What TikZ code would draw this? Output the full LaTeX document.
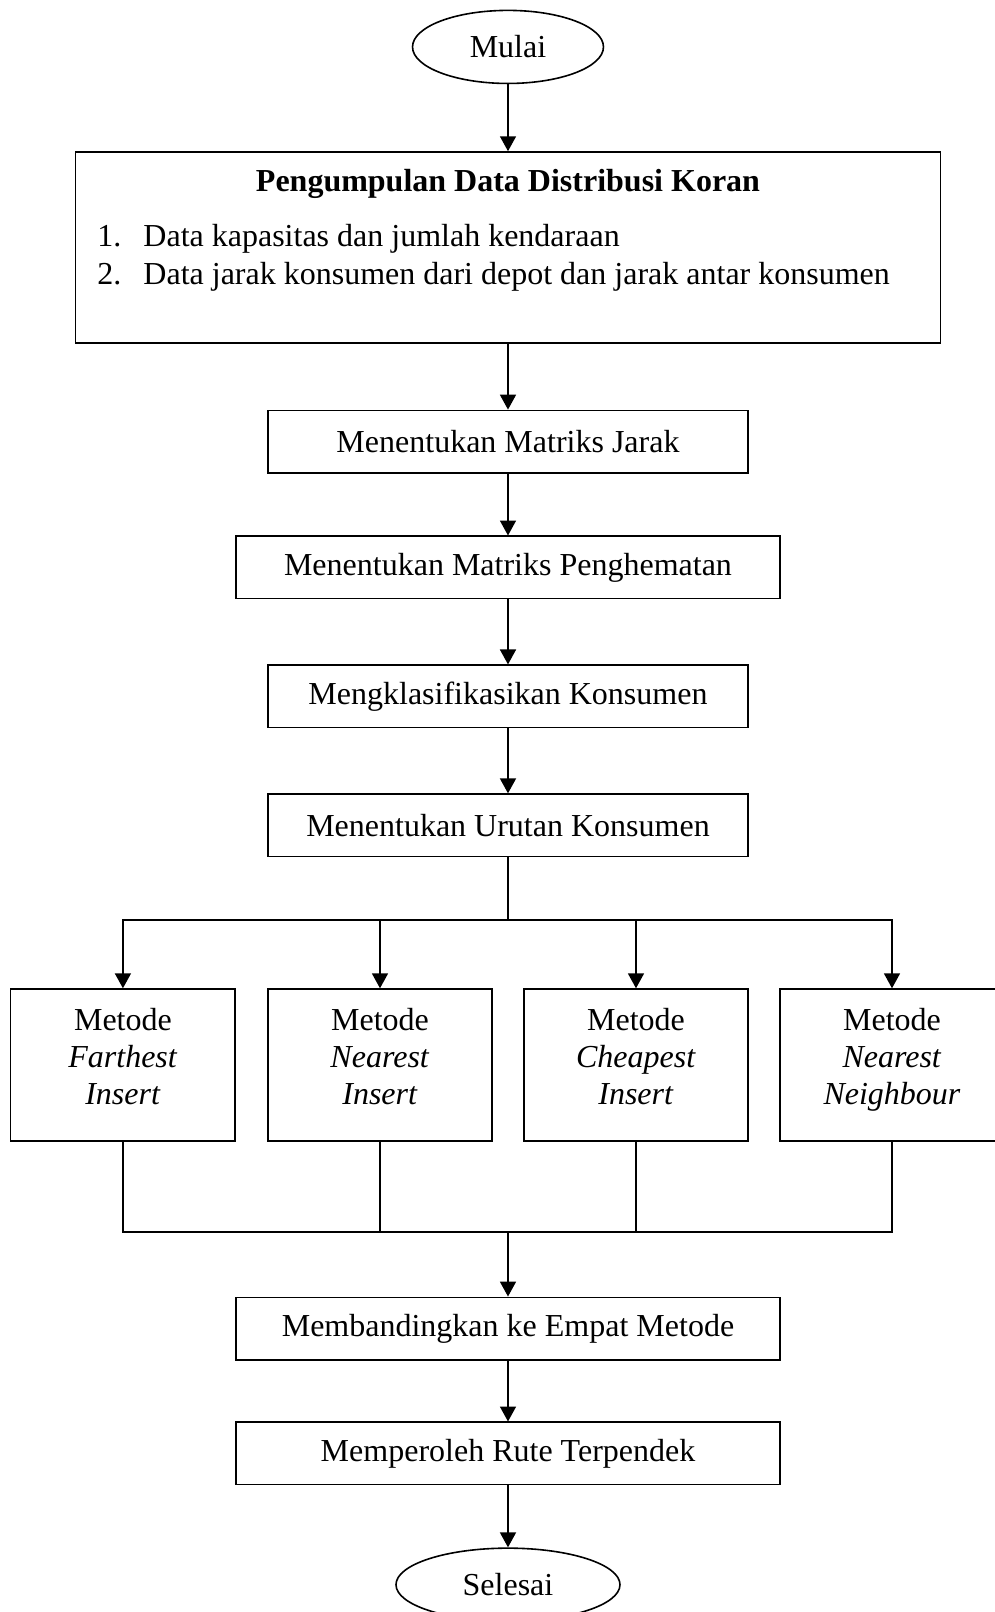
\documentclass[tikz,border=0pt]{standalone}
\usepackage{fontspec}
\setmainfont{Liberation Serif}
\usetikzlibrary{positioning,calc,shapes.geometric,arrows.meta}

\begin{document}
\begin{tikzpicture}[font=\fontsize{12}{13.9}\selectfont, line width=0.6pt,
        >={Triangle[length=5.6pt,width=6pt]},
        terminal/.style={ellipse, draw, inner sep=0pt, minimum height=27.4pt},
        proses/.style={rectangle, draw, inner sep=0pt, minimum width=180pt,
        minimum height=23.4pt},
        lebar/.style={minimum width=204pt},
        metode/.style={rectangle, draw, align=center, inner sep=0pt,
        minimum width=84.2pt, minimum height=57pt,
        execute at end node={\rule[-6.6pt]{0pt}{0pt}}}]

    \useasboundingbox (-190.5pt,17.6pt) rectangle (182.6pt,-586.9pt);
    \clip (-190.5pt,17.6pt) rectangle (182.6pt,-586.9pt);

    \node[terminal, minimum width=71.6pt] (mulai) at (0,0) {Mulai};
    \node[draw, minimum width=324.4pt, minimum height=71.6pt] (data) [below=25.1pt of mulai] {};
    \node[anchor=base, font=\fontsize{12}{13.9}\selectfont\bfseries] (judul)
        at ([yshift=-15pt]data.north) {Pengumpulan Data Distribusi Koran};
    \node[anchor=base west, inner sep=0pt] (isi1) at ([xshift=8.25pt,yshift=-35.6pt]data.north west)
        {\makebox[17.25pt][l]{1.}Data kapasitas dan jumlah kendaraan};
    \node[anchor=base west, inner sep=0pt] (isi2) at ([yshift=-14.25pt]isi1.base west)
        {\makebox[17.25pt][l]{2.}Data jarak konsumen dari depot dan jarak antar konsumen};

    \node[proses] (jarak) [below=24.7pt of data] {Menentukan Matriks Jarak};
    \node[proses, lebar] (hemat) [below=23.2pt of jarak] {Menentukan Matriks Penghematan};
    \node[proses] (klas) [below=24.35pt of hemat] {Mengklasifikasikan Konsumen};
    \node[proses] (urut) [below=24.35pt of klas] {Menentukan Urutan Konsumen};

    \node[metode] (ni) [below=49.1pt of urut, xshift=-48pt] {Metode\\\textit{Nearest}\\\textit{Insert}};
    \node[metode] (fi) [left=11.6pt of ni] {Metode\\\textit{Farthest}\\\textit{Insert}};
    \node[metode] (ci) [right=11.2pt of ni] {Metode\\\textit{Cheapest}\\\textit{Insert}};
    \node[metode] (nn) [right=11.2pt of ci] {Metode\\\textit{Nearest}\\\textit{Neighbour}};

    \coordinate[below=23.6pt of urut] (cabang);
    \coordinate (gabung) at ($(ni.south)!0.5!(ci.south)+(0,-33.7pt)$);

    \node[proses, lebar] (banding) [below=24.3pt of gabung] {Membandingkan ke Empat Metode};
    \node[proses, lebar] (peroleh) [below=22.85pt of banding] {Memperoleh Rute Terpendek};
    \node[terminal, minimum width=84pt] (selesai) [below=23.2pt of peroleh] {Selesai};

    \draw[->] (mulai) -- (data);
    \draw[->] (data) -- (jarak);
    \draw[->] (jarak) -- (hemat);
    \draw[->] (hemat) -- (klas);
    \draw[->] (klas) -- (urut);
    \draw (urut) -- (cabang);
    \draw[->] (cabang) -| (fi);
    \draw[->] (cabang) -| (nn);
    \draw[->] (cabang -| ni) -- (ni);
    \draw[->] (cabang -| ci) -- (ci);
    \draw (fi) |- (gabung) -| (nn);
    \draw (ni) -- (ni |- gabung);
    \draw (ci) -- (ci |- gabung);
    \draw[->] (gabung) -- (banding);
    \draw[->] (banding) -- (peroleh);
    \draw[->] (peroleh) -- (selesai);
  \end{tikzpicture}
\end{document}
